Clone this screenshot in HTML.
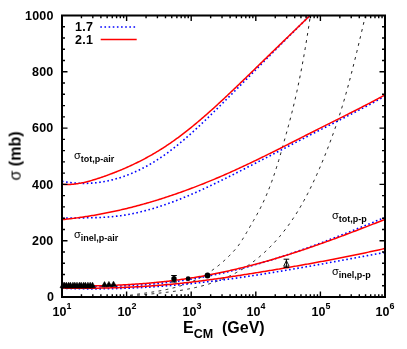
<!DOCTYPE html><html><head><meta charset="utf-8"><style>
html,body{margin:0;padding:0;background:#fff}
body{width:407px;height:349px;position:relative;overflow:hidden;font-family:"Liberation Sans",sans-serif;color:#000}
.t{position:absolute;white-space:nowrap;font-weight:bold;line-height:1;will-change:transform}
.yl{font-size:12.5px;letter-spacing:0.2px;right:353.2px;text-align:right}
.xl{font-size:12.5px;transform:translateX(-50%)}
.xl sup{font-size:9px;position:relative;top:-7.4px;vertical-align:baseline;line-height:0}
.lab{font-size:9px}
.lab .s{font-weight:normal;font-size:11px;position:relative;top:-2.6px}
</style></head><body>
<svg width="407" height="349" viewBox="0 0 407 349" style="position:absolute;left:0;top:0">
<rect width="407" height="349" fill="#fff"/>
<defs><clipPath id="c"><rect x="62" y="15.5" width="323" height="281.5"/></clipPath></defs>
<g clip-path="url(#c)" fill="none">
<path d="M130.00 295.27 L130.70 295.17 L131.40 295.06 L132.09 294.96 L132.79 294.86 L133.49 294.76 L134.19 294.66 L134.89 294.56 L135.58 294.46 L136.28 294.36 L136.98 294.26 L137.68 294.16 L138.38 294.07 L139.07 293.97 L139.77 293.87 L140.47 293.77 L141.17 293.68 L141.87 293.58 L142.57 293.48 L143.26 293.39 L143.96 293.29 L144.66 293.19 L145.36 293.09 L146.06 292.99 L146.75 292.89 L147.45 292.79 L148.15 292.69 L148.85 292.59 L149.55 292.49 L150.24 292.38 L150.94 292.28 L151.64 292.17 L152.34 292.06 L153.04 291.96 L153.73 291.85 L154.43 291.73 L155.13 291.62 L155.83 291.51 L156.53 291.39 L157.22 291.27 L157.92 291.15 L158.62 291.03 L159.32 290.91 L160.02 290.78 L160.72 290.66 L161.41 290.53 L162.11 290.40 L162.81 290.26 L163.51 290.12 L164.21 289.99 L164.90 289.84 L165.60 289.70 L166.30 289.55 L167.00 289.40 L167.70 289.25 L168.39 289.10 L169.09 288.94 L169.79 288.78 L170.49 288.61 L171.19 288.44 L171.88 288.27 L172.58 288.10 L173.28 287.92 L173.98 287.74 L174.68 287.55 L175.37 287.37 L176.07 287.17 L176.77 286.98 L177.47 286.78 L178.17 286.57 L178.86 286.37 L179.56 286.15 L180.26 285.94 L180.96 285.72 L181.66 285.49 L182.36 285.26 L183.05 285.03 L183.75 284.79 L184.45 284.55 L185.15 284.30 L185.85 284.05 L186.54 283.79 L187.24 283.53 L187.94 283.26 L188.64 282.99 L189.34 282.71 L190.03 282.43 L190.73 282.14 L191.43 281.85 L192.13 281.55 L192.83 281.24 L193.52 280.93 L194.22 280.62 L194.92 280.30 L195.62 279.97 L196.32 279.63 L197.01 279.30 L197.71 278.95 L198.41 278.60 L199.11 278.24 L199.81 277.88 L200.51 277.51 L201.20 277.13 L201.90 276.75 L202.60 276.36 L203.30 275.96 L204.00 275.56 L204.69 275.15 L205.39 274.73 L206.09 274.31 L206.79 273.88 L207.49 273.44 L208.18 273.00 L208.88 272.54 L209.58 272.08 L210.28 271.62 L210.98 271.14 L211.67 270.66 L212.37 270.17 L213.07 269.67 L213.77 269.17 L214.47 268.66 L215.16 268.13 L215.86 267.61 L216.56 267.07 L217.26 266.52 L217.96 265.97 L218.65 265.41 L219.35 264.84 L220.05 264.26 L220.75 263.67 L221.45 263.08 L222.15 262.47 L222.84 261.86 L223.54 261.24 L224.24 260.61 L224.94 259.97 L225.64 259.32 L226.33 258.66 L227.03 258.00 L227.73 257.32 L228.43 256.64 L229.13 255.94 L229.82 255.24 L230.52 254.52 L231.22 253.80 L231.92 253.07 L232.62 252.32 L233.31 251.57 L234.01 250.81 L234.71 250.03 L235.41 249.24 L236.11 248.43 L236.80 247.58 L237.50 246.71 L238.20 245.79 L238.90 244.83 L239.60 243.84 L240.29 242.82 L240.99 241.77 L241.69 240.68 L242.39 239.58 L243.09 238.45 L243.79 237.30 L244.48 236.14 L245.18 234.96 L245.88 233.77 L246.58 232.57 L247.28 231.36 L247.97 230.15 L248.67 228.94 L249.37 227.73 L250.07 226.53 L250.77 225.33 L251.46 224.13 L252.16 222.93 L252.86 221.72 L253.56 220.51 L254.26 219.30 L254.95 218.08 L255.65 216.84 L256.35 215.60 L257.05 214.34 L257.75 213.07 L258.44 211.77 L259.14 210.46 L259.84 209.12 L260.54 207.77 L261.24 206.38 L261.94 204.97 L262.63 203.53 L263.33 202.06 L264.03 200.55 L264.73 199.01 L265.43 197.43 L266.12 195.82 L266.82 194.18 L267.52 192.50 L268.22 190.78 L268.92 189.03 L269.61 187.23 L270.31 185.41 L271.01 183.54 L271.71 181.64 L272.41 179.69 L273.10 177.71 L273.80 175.69 L274.50 173.63 L275.20 171.53 L275.90 169.39 L276.59 167.21 L277.29 164.99 L277.99 162.73 L278.69 160.42 L279.39 158.08 L280.08 155.69 L280.78 153.26 L281.48 150.80 L282.18 148.32 L282.88 145.85 L283.58 143.37 L284.27 140.89 L284.97 138.41 L285.67 135.91 L286.37 133.40 L287.07 130.87 L287.76 128.31 L288.46 125.74 L289.16 123.13 L289.86 120.50 L290.56 117.82 L291.25 115.11 L291.95 112.36 L292.65 109.57 L293.35 106.72 L294.05 103.82 L294.74 100.87 L295.44 97.86 L296.14 94.78 L296.84 91.64 L297.54 88.44 L298.23 85.16 L298.93 81.81 L299.63 78.38 L300.33 74.89 L301.03 71.31 L301.73 67.66 L302.42 63.94 L303.12 60.13 L303.82 56.25 L304.52 52.28 L305.22 48.23 L305.91 44.10 L306.61 39.89 L307.31 35.59 L308.01 31.20 L308.71 26.72 L309.40 22.15 L310.10 17.50 L310.80 12.75" stroke="#000" stroke-width="0.9" stroke-dasharray="2.8 4.4"/>
<path d="M130.00 296.04 L130.91 295.94 L131.82 295.84 L132.73 295.75 L133.64 295.65 L134.56 295.56 L135.47 295.47 L136.38 295.38 L137.29 295.29 L138.20 295.20 L139.11 295.11 L140.02 295.02 L140.93 294.93 L141.85 294.84 L142.76 294.75 L143.67 294.67 L144.58 294.58 L145.49 294.49 L146.40 294.40 L147.31 294.32 L148.22 294.23 L149.14 294.14 L150.05 294.05 L150.96 293.97 L151.87 293.88 L152.78 293.79 L153.69 293.70 L154.60 293.61 L155.51 293.51 L156.42 293.42 L157.34 293.33 L158.25 293.23 L159.16 293.14 L160.07 293.04 L160.98 292.94 L161.89 292.84 L162.80 292.74 L163.71 292.64 L164.63 292.53 L165.54 292.43 L166.45 292.32 L167.36 292.21 L168.27 292.10 L169.18 291.99 L170.09 291.87 L171.00 291.75 L171.92 291.63 L172.83 291.51 L173.74 291.39 L174.65 291.26 L175.56 291.13 L176.47 291.00 L177.38 290.86 L178.29 290.73 L179.20 290.59 L180.12 290.44 L181.03 290.30 L181.94 290.15 L182.85 290.00 L183.76 289.84 L184.67 289.68 L185.58 289.52 L186.49 289.35 L187.41 289.18 L188.32 289.01 L189.23 288.83 L190.14 288.65 L191.05 288.47 L191.96 288.28 L192.87 288.09 L193.78 287.89 L194.69 287.69 L195.61 287.48 L196.52 287.27 L197.43 287.06 L198.34 286.84 L199.25 286.62 L200.16 286.39 L201.07 286.16 L201.98 285.92 L202.90 285.68 L203.81 285.43 L204.72 285.18 L205.63 284.92 L206.54 284.66 L207.45 284.39 L208.36 284.12 L209.27 283.84 L210.19 283.55 L211.10 283.26 L212.01 282.97 L212.92 282.67 L213.83 282.36 L214.74 282.05 L215.65 281.73 L216.56 281.40 L217.47 281.07 L218.39 280.73 L219.30 280.39 L220.21 280.04 L221.12 279.68 L222.03 279.32 L222.94 278.95 L223.85 278.57 L224.76 278.18 L225.68 277.79 L226.59 277.39 L227.50 276.98 L228.41 276.56 L229.32 276.14 L230.23 275.71 L231.14 275.27 L232.05 274.82 L232.97 274.36 L233.88 273.90 L234.79 273.42 L235.70 272.94 L236.61 272.45 L237.52 271.95 L238.43 271.44 L239.34 270.92 L240.25 270.39 L241.17 269.85 L242.08 269.30 L242.99 268.74 L243.90 268.17 L244.81 267.59 L245.72 267.00 L246.63 266.40 L247.54 265.79 L248.46 265.17 L249.37 264.54 L250.28 263.90 L251.19 263.25 L252.10 262.58 L253.01 261.90 L253.92 261.22 L254.83 260.52 L255.75 259.81 L256.66 259.08 L257.57 258.35 L258.48 257.60 L259.39 256.84 L260.30 256.07 L261.21 255.28 L262.12 254.49 L263.03 253.68 L263.95 252.85 L264.86 252.02 L265.77 251.17 L266.68 250.31 L267.59 249.43 L268.50 248.54 L269.41 247.64 L270.32 246.72 L271.24 245.79 L272.15 244.84 L273.06 243.88 L273.97 242.91 L274.88 241.92 L275.79 240.92 L276.70 239.90 L277.61 238.87 L278.53 237.82 L279.44 236.75 L280.35 235.67 L281.26 234.57 L282.17 233.45 L283.08 232.32 L283.99 231.16 L284.90 229.99 L285.81 228.80 L286.73 227.59 L287.64 226.37 L288.55 225.12 L289.46 223.85 L290.37 222.56 L291.28 221.25 L292.19 219.91 L293.10 218.56 L294.02 217.18 L294.93 215.78 L295.84 214.36 L296.75 212.92 L297.66 211.45 L298.57 209.95 L299.48 208.44 L300.39 206.89 L301.31 205.32 L302.22 203.73 L303.13 202.11 L304.04 200.46 L304.95 198.79 L305.86 197.09 L306.77 195.37 L307.68 193.61 L308.59 191.83 L309.51 190.03 L310.42 188.20 L311.33 186.34 L312.24 184.45 L313.15 182.54 L314.06 180.60 L314.97 178.63 L315.88 176.64 L316.80 174.62 L317.71 172.57 L318.62 170.50 L319.53 168.40 L320.44 166.27 L321.35 164.12 L322.26 161.94 L323.17 159.73 L324.08 157.50 L325.00 155.23 L325.91 152.94 L326.82 150.63 L327.73 148.28 L328.64 145.91 L329.55 143.51 L330.46 141.09 L331.37 138.64 L332.29 136.16 L333.20 133.65 L334.11 131.11 L335.02 128.53 L335.93 125.92 L336.84 123.26 L337.75 120.56 L338.66 117.80 L339.58 115.00 L340.49 112.14 L341.40 109.23 L342.31 106.25 L343.22 103.22 L344.13 100.13 L345.04 96.98 L345.95 93.77 L346.86 90.51 L347.78 87.19 L348.69 83.82 L349.60 80.40 L350.51 76.93 L351.42 73.42 L352.33 69.87 L353.24 66.27 L354.15 62.64 L355.07 58.98 L355.98 55.28 L356.89 51.55 L357.80 47.80 L358.71 44.02 L359.62 40.22 L360.53 36.40 L361.44 32.56 L362.36 28.71 L363.27 24.85 L364.18 20.98 L365.09 17.10 L366.00 13.22" stroke="#000" stroke-width="0.9" stroke-dasharray="2.8 4.4"/>
<path d="M62.00 181.27 L62.97 181.45 L63.93 181.63 L64.90 181.79 L65.86 181.95 L66.83 182.10 L67.79 182.24 L68.76 182.37 L69.72 182.50 L70.69 182.62 L71.65 182.72 L72.62 182.82 L73.58 182.92 L74.55 183.00 L75.51 183.08 L76.48 183.14 L77.44 183.20 L78.41 183.25 L79.37 183.30 L80.34 183.33 L81.31 183.36 L82.27 183.37 L83.24 183.38 L84.20 183.39 L85.17 183.38 L86.13 183.36 L87.10 183.34 L88.06 183.31 L89.03 183.27 L89.99 183.22 L90.96 183.17 L91.92 183.10 L92.89 183.03 L93.85 182.95 L94.82 182.86 L95.78 182.77 L96.75 182.66 L97.71 182.55 L98.68 182.43 L99.64 182.30 L100.61 182.16 L101.58 182.02 L102.54 181.86 L103.51 181.70 L104.47 181.53 L105.44 181.35 L106.40 181.17 L107.37 180.97 L108.33 180.77 L109.30 180.56 L110.26 180.34 L111.23 180.11 L112.19 179.88 L113.16 179.63 L114.12 179.38 L115.09 179.12 L116.05 178.85 L117.02 178.58 L117.98 178.29 L118.95 178.00 L119.92 177.70 L120.88 177.39 L121.85 177.08 L122.81 176.75 L123.78 176.42 L124.74 176.08 L125.71 175.73 L126.67 175.37 L127.64 175.01 L128.60 174.63 L129.57 174.25 L130.53 173.86 L131.50 173.46 L132.46 173.06 L133.43 172.64 L134.39 172.22 L135.36 171.79 L136.32 171.35 L137.29 170.91 L138.25 170.45 L139.22 169.99 L140.19 169.52 L141.15 169.04 L142.12 168.55 L143.08 168.06 L144.05 167.56 L145.01 167.04 L145.98 166.53 L146.94 166.00 L147.91 165.46 L148.87 164.92 L149.84 164.37 L150.80 163.81 L151.77 163.24 L152.73 162.66 L153.70 162.08 L154.66 161.49 L155.63 160.89 L156.59 160.28 L157.56 159.66 L158.53 159.04 L159.49 158.41 L160.46 157.77 L161.42 157.12 L162.39 156.46 L163.35 155.80 L164.32 155.13 L165.28 154.45 L166.25 153.76 L167.21 153.06 L168.18 152.36 L169.14 151.64 L170.11 150.92 L171.07 150.19 L172.04 149.46 L173.00 148.71 L173.97 147.96 L174.93 147.20 L175.90 146.43 L176.86 145.66 L177.83 144.88 L178.80 144.09 L179.76 143.29 L180.73 142.49 L181.69 141.68 L182.66 140.86 L183.62 140.04 L184.59 139.21 L185.55 138.38 L186.52 137.54 L187.48 136.69 L188.45 135.84 L189.41 134.99 L190.38 134.13 L191.34 133.26 L192.31 132.39 L193.27 131.51 L194.24 130.63 L195.20 129.74 L196.17 128.85 L197.14 127.95 L198.10 127.06 L199.07 126.15 L200.03 125.24 L201.00 124.33 L201.96 123.42 L202.93 122.50 L203.89 121.58 L204.86 120.65 L205.82 119.73 L206.79 118.80 L207.75 117.86 L208.72 116.93 L209.68 115.99 L210.65 115.05 L211.61 114.10 L212.58 113.16 L213.54 112.21 L214.51 111.26 L215.47 110.31 L216.44 109.36 L217.41 108.40 L218.37 107.45 L219.34 106.49 L220.30 105.53 L221.27 104.57 L222.23 103.61 L223.20 102.65 L224.16 101.69 L225.13 100.72 L226.09 99.76 L227.06 98.79 L228.02 97.82 L228.99 96.85 L229.95 95.88 L230.92 94.91 L231.88 93.94 L232.85 92.97 L233.81 92.00 L234.78 91.03 L235.75 90.05 L236.71 89.08 L237.68 88.10 L238.64 87.13 L239.61 86.15 L240.57 85.18 L241.54 84.20 L242.50 83.23 L243.47 82.25 L244.43 81.27 L245.40 80.30 L246.36 79.32 L247.33 78.34 L248.29 77.37 L249.26 76.39 L250.22 75.41 L251.19 74.43 L252.15 73.46 L253.12 72.48 L254.08 71.50 L255.05 70.53 L256.02 69.55 L256.98 68.57 L257.95 67.59 L258.91 66.62 L259.88 65.64 L260.84 64.66 L261.81 63.69 L262.77 62.71 L263.74 61.73 L264.70 60.76 L265.67 59.78 L266.63 58.81 L267.60 57.83 L268.56 56.86 L269.53 55.88 L270.49 54.91 L271.46 53.93 L272.42 52.96 L273.39 51.98 L274.36 51.01 L275.32 50.04 L276.29 49.07 L277.25 48.09 L278.22 47.12 L279.18 46.15 L280.15 45.18 L281.11 44.21 L282.08 43.24 L283.04 42.27 L284.01 41.30 L284.97 40.34 L285.94 39.37 L286.90 38.40 L287.87 37.44 L288.83 36.47 L289.80 35.50 L290.76 34.54 L291.73 33.58 L292.69 32.61 L293.66 31.65 L294.63 30.69 L295.59 29.73 L296.56 28.77 L297.52 27.81 L298.49 26.85 L299.45 25.90 L300.42 24.94 L301.38 23.98 L302.35 23.03 L303.31 22.08 L304.28 21.12 L305.24 20.17 L306.21 19.22 L307.17 18.27 L308.14 17.32 L309.10 16.37 L310.07 15.42 L311.03 14.48 L312.00 13.53" stroke="#0000ff" stroke-width="1.6" stroke-dasharray="1.6 2.55"/>
<path d="M62.00 218.25 L63.25 218.21 L64.50 218.17 L65.75 218.14 L67.00 218.10 L68.25 218.08 L69.51 218.05 L70.76 218.03 L72.01 218.01 L73.26 217.99 L74.51 217.97 L75.76 217.96 L77.01 217.94 L78.26 217.93 L79.51 217.91 L80.76 217.90 L82.02 217.88 L83.27 217.87 L84.52 217.85 L85.77 217.84 L87.02 217.82 L88.27 217.80 L89.52 217.77 L90.77 217.75 L92.02 217.72 L93.27 217.69 L94.53 217.66 L95.78 217.62 L97.03 217.58 L98.28 217.53 L99.53 217.48 L100.78 217.43 L102.03 217.37 L103.28 217.31 L104.53 217.24 L105.78 217.16 L107.03 217.08 L108.29 216.99 L109.54 216.89 L110.79 216.79 L112.04 216.68 L113.29 216.56 L114.54 216.43 L115.79 216.30 L117.04 216.15 L118.29 216.00 L119.54 215.84 L120.80 215.67 L122.05 215.49 L123.30 215.31 L124.55 215.11 L125.80 214.91 L127.05 214.69 L128.30 214.47 L129.55 214.24 L130.80 214.01 L132.05 213.76 L133.31 213.51 L134.56 213.25 L135.81 212.98 L137.06 212.70 L138.31 212.42 L139.56 212.13 L140.81 211.83 L142.06 211.52 L143.31 211.21 L144.56 210.88 L145.81 210.56 L147.07 210.22 L148.32 209.88 L149.57 209.53 L150.82 209.17 L152.07 208.81 L153.32 208.44 L154.57 208.06 L155.82 207.68 L157.07 207.29 L158.32 206.89 L159.58 206.49 L160.83 206.08 L162.08 205.67 L163.33 205.24 L164.58 204.82 L165.83 204.38 L167.08 203.95 L168.33 203.50 L169.58 203.05 L170.83 202.60 L172.08 202.13 L173.34 201.67 L174.59 201.20 L175.84 200.72 L177.09 200.24 L178.34 199.75 L179.59 199.25 L180.84 198.76 L182.09 198.25 L183.34 197.75 L184.59 197.23 L185.85 196.72 L187.10 196.20 L188.35 195.67 L189.60 195.14 L190.85 194.60 L192.10 194.06 L193.35 193.52 L194.60 192.97 L195.85 192.42 L197.10 191.87 L198.36 191.31 L199.61 190.74 L200.86 190.18 L202.11 189.61 L203.36 189.03 L204.61 188.46 L205.86 187.88 L207.11 187.29 L208.36 186.70 L209.61 186.11 L210.86 185.52 L212.12 184.92 L213.37 184.33 L214.62 183.72 L215.87 183.12 L217.12 182.51 L218.37 181.90 L219.62 181.29 L220.87 180.68 L222.12 180.06 L223.37 179.44 L224.63 178.82 L225.88 178.20 L227.13 177.58 L228.38 176.95 L229.63 176.33 L230.88 175.70 L232.13 175.07 L233.38 174.44 L234.63 173.81 L235.88 173.17 L237.14 172.54 L238.39 171.91 L239.64 171.27 L240.89 170.63 L242.14 170.00 L243.39 169.36 L244.64 168.72 L245.89 168.08 L247.14 167.44 L248.39 166.80 L249.64 166.17 L250.90 165.53 L252.15 164.89 L253.40 164.25 L254.65 163.61 L255.90 162.97 L257.15 162.33 L258.40 161.69 L259.65 161.05 L260.90 160.41 L262.15 159.77 L263.41 159.13 L264.66 158.49 L265.91 157.85 L267.16 157.21 L268.41 156.57 L269.66 155.92 L270.91 155.28 L272.16 154.64 L273.41 154.00 L274.66 153.35 L275.92 152.71 L277.17 152.06 L278.42 151.42 L279.67 150.77 L280.92 150.13 L282.17 149.48 L283.42 148.83 L284.67 148.19 L285.92 147.54 L287.17 146.89 L288.42 146.24 L289.68 145.59 L290.93 144.94 L292.18 144.29 L293.43 143.64 L294.68 142.99 L295.93 142.34 L297.18 141.69 L298.43 141.04 L299.68 140.40 L300.93 139.75 L302.19 139.10 L303.44 138.46 L304.69 137.81 L305.94 137.17 L307.19 136.53 L308.44 135.88 L309.69 135.24 L310.94 134.60 L312.19 133.96 L313.44 133.33 L314.69 132.69 L315.95 132.05 L317.20 131.42 L318.45 130.78 L319.70 130.14 L320.95 129.51 L322.20 128.87 L323.45 128.24 L324.70 127.61 L325.95 126.97 L327.20 126.34 L328.46 125.70 L329.71 125.07 L330.96 124.44 L332.21 123.80 L333.46 123.17 L334.71 122.53 L335.96 121.90 L337.21 121.26 L338.46 120.63 L339.71 119.99 L340.97 119.36 L342.22 118.72 L343.47 118.08 L344.72 117.44 L345.97 116.80 L347.22 116.16 L348.47 115.52 L349.72 114.88 L350.97 114.24 L352.22 113.60 L353.47 112.95 L354.73 112.31 L355.98 111.66 L357.23 111.01 L358.48 110.36 L359.73 109.71 L360.98 109.06 L362.23 108.40 L363.48 107.75 L364.73 107.09 L365.98 106.43 L367.24 105.77 L368.49 105.11 L369.74 104.45 L370.99 103.78 L372.24 103.11 L373.49 102.45 L374.74 101.77 L375.99 101.10 L377.24 100.42 L378.49 99.75 L379.75 99.07 L381.00 98.38 L382.25 97.70 L383.50 97.01 L384.75 96.32 L386.00 95.63" stroke="#0000ff" stroke-width="1.6" stroke-dasharray="1.6 2.55"/>
<path d="M62.00 286.04 L63.25 286.07 L64.50 286.11 L65.75 286.15 L67.00 286.18 L68.25 286.22 L69.51 286.25 L70.76 286.28 L72.01 286.31 L73.26 286.33 L74.51 286.36 L75.76 286.38 L77.01 286.41 L78.26 286.43 L79.51 286.45 L80.76 286.46 L82.02 286.48 L83.27 286.49 L84.52 286.51 L85.77 286.52 L87.02 286.52 L88.27 286.53 L89.52 286.54 L90.77 286.54 L92.02 286.54 L93.27 286.54 L94.53 286.54 L95.78 286.53 L97.03 286.53 L98.28 286.52 L99.53 286.51 L100.78 286.50 L102.03 286.48 L103.28 286.47 L104.53 286.45 L105.78 286.43 L107.03 286.40 L108.29 286.38 L109.54 286.35 L110.79 286.33 L112.04 286.29 L113.29 286.26 L114.54 286.23 L115.79 286.19 L117.04 286.15 L118.29 286.11 L119.54 286.06 L120.80 286.02 L122.05 285.97 L123.30 285.92 L124.55 285.86 L125.80 285.81 L127.05 285.75 L128.30 285.69 L129.55 285.63 L130.80 285.56 L132.05 285.49 L133.31 285.42 L134.56 285.35 L135.81 285.27 L137.06 285.20 L138.31 285.12 L139.56 285.03 L140.81 284.95 L142.06 284.86 L143.31 284.77 L144.56 284.67 L145.81 284.58 L147.07 284.48 L148.32 284.38 L149.57 284.27 L150.82 284.17 L152.07 284.06 L153.32 283.95 L154.57 283.83 L155.82 283.71 L157.07 283.59 L158.32 283.47 L159.58 283.34 L160.83 283.21 L162.08 283.08 L163.33 282.94 L164.58 282.81 L165.83 282.67 L167.08 282.52 L168.33 282.37 L169.58 282.22 L170.83 282.07 L172.08 281.91 L173.34 281.76 L174.59 281.59 L175.84 281.43 L177.09 281.26 L178.34 281.09 L179.59 280.91 L180.84 280.74 L182.09 280.55 L183.34 280.37 L184.59 280.18 L185.85 279.99 L187.10 279.80 L188.35 279.60 L189.60 279.40 L190.85 279.20 L192.10 278.99 L193.35 278.78 L194.60 278.57 L195.85 278.35 L197.10 278.14 L198.36 277.91 L199.61 277.69 L200.86 277.46 L202.11 277.23 L203.36 277.00 L204.61 276.76 L205.86 276.52 L207.11 276.28 L208.36 276.03 L209.61 275.78 L210.86 275.53 L212.12 275.27 L213.37 275.02 L214.62 274.76 L215.87 274.49 L217.12 274.22 L218.37 273.96 L219.62 273.68 L220.87 273.41 L222.12 273.13 L223.37 272.85 L224.63 272.56 L225.88 272.28 L227.13 271.99 L228.38 271.69 L229.63 271.40 L230.88 271.10 L232.13 270.80 L233.38 270.49 L234.63 270.18 L235.88 269.87 L237.14 269.56 L238.39 269.25 L239.64 268.93 L240.89 268.61 L242.14 268.28 L243.39 267.95 L244.64 267.62 L245.89 267.29 L247.14 266.96 L248.39 266.62 L249.64 266.28 L250.90 265.94 L252.15 265.59 L253.40 265.24 L254.65 264.89 L255.90 264.53 L257.15 264.18 L258.40 263.82 L259.65 263.46 L260.90 263.09 L262.15 262.72 L263.41 262.35 L264.66 261.98 L265.91 261.61 L267.16 261.23 L268.41 260.85 L269.66 260.46 L270.91 260.08 L272.16 259.69 L273.41 259.30 L274.66 258.91 L275.92 258.51 L277.17 258.12 L278.42 257.72 L279.67 257.31 L280.92 256.91 L282.17 256.50 L283.42 256.09 L284.67 255.68 L285.92 255.27 L287.17 254.85 L288.42 254.44 L289.68 254.02 L290.93 253.59 L292.18 253.17 L293.43 252.74 L294.68 252.32 L295.93 251.88 L297.18 251.45 L298.43 251.02 L299.68 250.58 L300.93 250.14 L302.19 249.70 L303.44 249.26 L304.69 248.82 L305.94 248.37 L307.19 247.92 L308.44 247.47 L309.69 247.02 L310.94 246.57 L312.19 246.12 L313.44 245.66 L314.69 245.20 L315.95 244.74 L317.20 244.28 L318.45 243.82 L319.70 243.35 L320.95 242.88 L322.20 242.42 L323.45 241.95 L324.70 241.48 L325.95 241.00 L327.20 240.53 L328.46 240.05 L329.71 239.58 L330.96 239.10 L332.21 238.62 L333.46 238.14 L334.71 237.65 L335.96 237.17 L337.21 236.68 L338.46 236.20 L339.71 235.71 L340.97 235.22 L342.22 234.73 L343.47 234.24 L344.72 233.75 L345.97 233.25 L347.22 232.76 L348.47 232.26 L349.72 231.76 L350.97 231.27 L352.22 230.77 L353.47 230.27 L354.73 229.77 L355.98 229.26 L357.23 228.76 L358.48 228.26 L359.73 227.75 L360.98 227.24 L362.23 226.74 L363.48 226.23 L364.73 225.72 L365.98 225.21 L367.24 224.70 L368.49 224.19 L369.74 223.68 L370.99 223.17 L372.24 222.65 L373.49 222.14 L374.74 221.62 L375.99 221.11 L377.24 220.59 L378.49 220.08 L379.75 219.56 L381.00 219.04 L382.25 218.52 L383.50 218.01 L384.75 217.49 L386.00 216.97" stroke="#0000ff" stroke-width="1.6" stroke-dasharray="1.6 2.55"/>
<path d="M62.00 288.26 L63.25 288.31 L64.50 288.36 L65.75 288.40 L67.00 288.44 L68.25 288.48 L69.51 288.52 L70.76 288.56 L72.01 288.59 L73.26 288.63 L74.51 288.66 L75.76 288.68 L77.01 288.71 L78.26 288.74 L79.51 288.76 L80.76 288.78 L82.02 288.80 L83.27 288.81 L84.52 288.83 L85.77 288.84 L87.02 288.85 L88.27 288.86 L89.52 288.87 L90.77 288.87 L92.02 288.88 L93.27 288.88 L94.53 288.88 L95.78 288.87 L97.03 288.87 L98.28 288.86 L99.53 288.86 L100.78 288.85 L102.03 288.83 L103.28 288.82 L104.53 288.81 L105.78 288.79 L107.03 288.77 L108.29 288.75 L109.54 288.73 L110.79 288.70 L112.04 288.68 L113.29 288.65 L114.54 288.62 L115.79 288.59 L117.04 288.55 L118.29 288.52 L119.54 288.48 L120.80 288.44 L122.05 288.40 L123.30 288.36 L124.55 288.31 L125.80 288.27 L127.05 288.22 L128.30 288.17 L129.55 288.12 L130.80 288.07 L132.05 288.01 L133.31 287.96 L134.56 287.90 L135.81 287.84 L137.06 287.78 L138.31 287.72 L139.56 287.65 L140.81 287.59 L142.06 287.52 L143.31 287.45 L144.56 287.38 L145.81 287.30 L147.07 287.23 L148.32 287.15 L149.57 287.08 L150.82 287.00 L152.07 286.92 L153.32 286.83 L154.57 286.75 L155.82 286.66 L157.07 286.58 L158.32 286.49 L159.58 286.40 L160.83 286.30 L162.08 286.21 L163.33 286.11 L164.58 286.02 L165.83 285.92 L167.08 285.82 L168.33 285.72 L169.58 285.61 L170.83 285.51 L172.08 285.40 L173.34 285.30 L174.59 285.19 L175.84 285.08 L177.09 284.96 L178.34 284.85 L179.59 284.73 L180.84 284.62 L182.09 284.50 L183.34 284.38 L184.59 284.26 L185.85 284.14 L187.10 284.01 L188.35 283.89 L189.60 283.76 L190.85 283.63 L192.10 283.50 L193.35 283.37 L194.60 283.24 L195.85 283.10 L197.10 282.97 L198.36 282.83 L199.61 282.69 L200.86 282.55 L202.11 282.41 L203.36 282.27 L204.61 282.12 L205.86 281.98 L207.11 281.83 L208.36 281.68 L209.61 281.53 L210.86 281.38 L212.12 281.23 L213.37 281.08 L214.62 280.92 L215.87 280.77 L217.12 280.61 L218.37 280.45 L219.62 280.29 L220.87 280.13 L222.12 279.97 L223.37 279.81 L224.63 279.64 L225.88 279.48 L227.13 279.31 L228.38 279.14 L229.63 278.97 L230.88 278.80 L232.13 278.63 L233.38 278.46 L234.63 278.28 L235.88 278.11 L237.14 277.93 L238.39 277.75 L239.64 277.57 L240.89 277.40 L242.14 277.21 L243.39 277.03 L244.64 276.85 L245.89 276.67 L247.14 276.48 L248.39 276.30 L249.64 276.11 L250.90 275.92 L252.15 275.73 L253.40 275.54 L254.65 275.35 L255.90 275.16 L257.15 274.97 L258.40 274.77 L259.65 274.58 L260.90 274.38 L262.15 274.19 L263.41 273.99 L264.66 273.79 L265.91 273.59 L267.16 273.39 L268.41 273.19 L269.66 272.99 L270.91 272.79 L272.16 272.59 L273.41 272.38 L274.66 272.18 L275.92 271.97 L277.17 271.77 L278.42 271.56 L279.67 271.35 L280.92 271.14 L282.17 270.93 L283.42 270.72 L284.67 270.51 L285.92 270.30 L287.17 270.09 L288.42 269.88 L289.68 269.66 L290.93 269.45 L292.18 269.23 L293.43 269.02 L294.68 268.80 L295.93 268.59 L297.18 268.37 L298.43 268.15 L299.68 267.93 L300.93 267.71 L302.19 267.49 L303.44 267.28 L304.69 267.06 L305.94 266.83 L307.19 266.61 L308.44 266.39 L309.69 266.17 L310.94 265.95 L312.19 265.72 L313.44 265.50 L314.69 265.28 L315.95 265.05 L317.20 264.83 L318.45 264.60 L319.70 264.38 L320.95 264.15 L322.20 263.93 L323.45 263.70 L324.70 263.47 L325.95 263.25 L327.20 263.02 L328.46 262.79 L329.71 262.56 L330.96 262.33 L332.21 262.11 L333.46 261.88 L334.71 261.65 L335.96 261.42 L337.21 261.19 L338.46 260.96 L339.71 260.73 L340.97 260.50 L342.22 260.27 L343.47 260.04 L344.72 259.81 L345.97 259.58 L347.22 259.35 L348.47 259.12 L349.72 258.89 L350.97 258.66 L352.22 258.43 L353.47 258.20 L354.73 257.97 L355.98 257.74 L357.23 257.51 L358.48 257.28 L359.73 257.05 L360.98 256.82 L362.23 256.58 L363.48 256.35 L364.73 256.12 L365.98 255.89 L367.24 255.66 L368.49 255.43 L369.74 255.20 L370.99 254.97 L372.24 254.74 L373.49 254.51 L374.74 254.28 L375.99 254.05 L377.24 253.83 L378.49 253.60 L379.75 253.37 L381.00 253.14 L382.25 252.91 L383.50 252.68 L384.75 252.45 L386.00 252.23" stroke="#0000ff" stroke-width="1.6" stroke-dasharray="1.6 2.55"/>
<path d="M62.00 184.24 L62.97 184.32 L63.93 184.38 L64.90 184.43 L65.86 184.46 L66.83 184.48 L67.79 184.48 L68.76 184.46 L69.72 184.43 L70.69 184.39 L71.65 184.33 L72.62 184.25 L73.58 184.16 L74.55 184.06 L75.51 183.95 L76.48 183.82 L77.44 183.68 L78.41 183.53 L79.37 183.37 L80.34 183.20 L81.31 183.01 L82.27 182.82 L83.24 182.61 L84.20 182.40 L85.17 182.17 L86.13 181.94 L87.10 181.70 L88.06 181.45 L89.03 181.19 L89.99 180.93 L90.96 180.65 L91.92 180.37 L92.89 180.09 L93.85 179.79 L94.82 179.50 L95.78 179.19 L96.75 178.88 L97.71 178.57 L98.68 178.25 L99.64 177.93 L100.61 177.60 L101.58 177.28 L102.54 176.94 L103.51 176.61 L104.47 176.27 L105.44 175.93 L106.40 175.58 L107.37 175.23 L108.33 174.88 L109.30 174.53 L110.26 174.17 L111.23 173.80 L112.19 173.44 L113.16 173.07 L114.12 172.69 L115.09 172.32 L116.05 171.94 L117.02 171.55 L117.98 171.16 L118.95 170.77 L119.92 170.37 L120.88 169.97 L121.85 169.57 L122.81 169.16 L123.78 168.74 L124.74 168.33 L125.71 167.91 L126.67 167.48 L127.64 167.05 L128.60 166.62 L129.57 166.18 L130.53 165.74 L131.50 165.29 L132.46 164.84 L133.43 164.38 L134.39 163.92 L135.36 163.45 L136.32 162.98 L137.29 162.51 L138.25 162.03 L139.22 161.55 L140.19 161.06 L141.15 160.56 L142.12 160.06 L143.08 159.56 L144.05 159.05 L145.01 158.54 L145.98 158.02 L146.94 157.49 L147.91 156.96 L148.87 156.43 L149.84 155.89 L150.80 155.34 L151.77 154.79 L152.73 154.24 L153.70 153.68 L154.66 153.11 L155.63 152.54 L156.59 151.96 L157.56 151.38 L158.53 150.79 L159.49 150.19 L160.46 149.59 L161.42 148.99 L162.39 148.38 L163.35 147.76 L164.32 147.14 L165.28 146.51 L166.25 145.87 L167.21 145.23 L168.18 144.58 L169.14 143.93 L170.11 143.27 L171.07 142.60 L172.04 141.93 L173.00 141.25 L173.97 140.57 L174.93 139.88 L175.90 139.18 L176.86 138.48 L177.83 137.77 L178.80 137.06 L179.76 136.34 L180.73 135.62 L181.69 134.89 L182.66 134.15 L183.62 133.41 L184.59 132.67 L185.55 131.92 L186.52 131.16 L187.48 130.40 L188.45 129.63 L189.41 128.86 L190.38 128.09 L191.34 127.30 L192.31 126.52 L193.27 125.73 L194.24 124.94 L195.20 124.14 L196.17 123.33 L197.14 122.53 L198.10 121.71 L199.07 120.90 L200.03 120.08 L201.00 119.25 L201.96 118.42 L202.93 117.59 L203.89 116.76 L204.86 115.92 L205.82 115.07 L206.79 114.23 L207.75 113.38 L208.72 112.52 L209.68 111.66 L210.65 110.80 L211.61 109.94 L212.58 109.07 L213.54 108.20 L214.51 107.33 L215.47 106.45 L216.44 105.57 L217.41 104.69 L218.37 103.80 L219.34 102.91 L220.30 102.02 L221.27 101.13 L222.23 100.23 L223.20 99.34 L224.16 98.44 L225.13 97.53 L226.09 96.63 L227.06 95.72 L228.02 94.81 L228.99 93.90 L229.95 92.99 L230.92 92.07 L231.88 91.15 L232.85 90.24 L233.81 89.32 L234.78 88.39 L235.75 87.47 L236.71 86.55 L237.68 85.62 L238.64 84.69 L239.61 83.76 L240.57 82.83 L241.54 81.90 L242.50 80.97 L243.47 80.04 L244.43 79.10 L245.40 78.17 L246.36 77.23 L247.33 76.30 L248.29 75.36 L249.26 74.42 L250.22 73.48 L251.19 72.54 L252.15 71.61 L253.12 70.67 L254.08 69.73 L255.05 68.79 L256.02 67.85 L256.98 66.91 L257.95 65.97 L258.91 65.03 L259.88 64.09 L260.84 63.15 L261.81 62.22 L262.77 61.28 L263.74 60.34 L264.70 59.40 L265.67 58.46 L266.63 57.52 L267.60 56.59 L268.56 55.65 L269.53 54.71 L270.49 53.77 L271.46 52.83 L272.42 51.90 L273.39 50.96 L274.36 50.02 L275.32 49.09 L276.29 48.15 L277.25 47.21 L278.22 46.28 L279.18 45.34 L280.15 44.40 L281.11 43.47 L282.08 42.53 L283.04 41.59 L284.01 40.66 L284.97 39.72 L285.94 38.79 L286.90 37.85 L287.87 36.92 L288.83 35.98 L289.80 35.05 L290.76 34.11 L291.73 33.18 L292.69 32.24 L293.66 31.31 L294.63 30.37 L295.59 29.44 L296.56 28.50 L297.52 27.57 L298.49 26.64 L299.45 25.70 L300.42 24.77 L301.38 23.84 L302.35 22.90 L303.31 21.97 L304.28 21.04 L305.24 20.11 L306.21 19.17 L307.17 18.24 L308.14 17.31 L309.10 16.38 L310.07 15.44 L311.03 14.51 L312.00 13.58" stroke="#ff0000" stroke-width="1.5"/>
<path d="M62.00 219.66 L63.25 219.53 L64.50 219.39 L65.75 219.26 L67.00 219.12 L68.25 218.97 L69.51 218.83 L70.76 218.68 L72.01 218.52 L73.26 218.37 L74.51 218.21 L75.76 218.04 L77.01 217.88 L78.26 217.71 L79.51 217.53 L80.76 217.36 L82.02 217.18 L83.27 216.99 L84.52 216.80 L85.77 216.61 L87.02 216.42 L88.27 216.22 L89.52 216.02 L90.77 215.82 L92.02 215.61 L93.27 215.40 L94.53 215.18 L95.78 214.96 L97.03 214.74 L98.28 214.52 L99.53 214.29 L100.78 214.06 L102.03 213.82 L103.28 213.58 L104.53 213.34 L105.78 213.10 L107.03 212.85 L108.29 212.59 L109.54 212.34 L110.79 212.08 L112.04 211.82 L113.29 211.55 L114.54 211.28 L115.79 211.01 L117.04 210.73 L118.29 210.45 L119.54 210.17 L120.80 209.88 L122.05 209.59 L123.30 209.30 L124.55 209.00 L125.80 208.70 L127.05 208.40 L128.30 208.09 L129.55 207.78 L130.80 207.47 L132.05 207.15 L133.31 206.83 L134.56 206.51 L135.81 206.18 L137.06 205.85 L138.31 205.51 L139.56 205.18 L140.81 204.84 L142.06 204.49 L143.31 204.14 L144.56 203.79 L145.81 203.44 L147.07 203.08 L148.32 202.72 L149.57 202.35 L150.82 201.99 L152.07 201.62 L153.32 201.24 L154.57 200.86 L155.82 200.48 L157.07 200.10 L158.32 199.71 L159.58 199.32 L160.83 198.93 L162.08 198.53 L163.33 198.13 L164.58 197.72 L165.83 197.32 L167.08 196.91 L168.33 196.49 L169.58 196.08 L170.83 195.66 L172.08 195.24 L173.34 194.81 L174.59 194.38 L175.84 193.95 L177.09 193.52 L178.34 193.08 L179.59 192.64 L180.84 192.19 L182.09 191.74 L183.34 191.29 L184.59 190.84 L185.85 190.38 L187.10 189.92 L188.35 189.46 L189.60 189.00 L190.85 188.53 L192.10 188.06 L193.35 187.58 L194.60 187.10 L195.85 186.62 L197.10 186.14 L198.36 185.65 L199.61 185.16 L200.86 184.67 L202.11 184.18 L203.36 183.68 L204.61 183.18 L205.86 182.67 L207.11 182.17 L208.36 181.66 L209.61 181.15 L210.86 180.63 L212.12 180.11 L213.37 179.59 L214.62 179.07 L215.87 178.54 L217.12 178.01 L218.37 177.48 L219.62 176.94 L220.87 176.41 L222.12 175.87 L223.37 175.32 L224.63 174.78 L225.88 174.23 L227.13 173.68 L228.38 173.12 L229.63 172.57 L230.88 172.01 L232.13 171.44 L233.38 170.88 L234.63 170.31 L235.88 169.74 L237.14 169.17 L238.39 168.60 L239.64 168.02 L240.89 167.44 L242.14 166.86 L243.39 166.27 L244.64 165.69 L245.89 165.10 L247.14 164.51 L248.39 163.92 L249.64 163.32 L250.90 162.73 L252.15 162.13 L253.40 161.53 L254.65 160.93 L255.90 160.32 L257.15 159.72 L258.40 159.11 L259.65 158.50 L260.90 157.89 L262.15 157.28 L263.41 156.67 L264.66 156.06 L265.91 155.44 L267.16 154.82 L268.41 154.20 L269.66 153.59 L270.91 152.96 L272.16 152.34 L273.41 151.72 L274.66 151.10 L275.92 150.47 L277.17 149.84 L278.42 149.22 L279.67 148.59 L280.92 147.96 L282.17 147.33 L283.42 146.70 L284.67 146.07 L285.92 145.44 L287.17 144.81 L288.42 144.17 L289.68 143.54 L290.93 142.91 L292.18 142.27 L293.43 141.64 L294.68 141.00 L295.93 140.37 L297.18 139.73 L298.43 139.10 L299.68 138.46 L300.93 137.83 L302.19 137.19 L303.44 136.56 L304.69 135.92 L305.94 135.29 L307.19 134.65 L308.44 134.02 L309.69 133.38 L310.94 132.75 L312.19 132.11 L313.44 131.48 L314.69 130.85 L315.95 130.21 L317.20 129.58 L318.45 128.95 L319.70 128.32 L320.95 127.69 L322.20 127.06 L323.45 126.43 L324.70 125.80 L325.95 125.17 L327.20 124.55 L328.46 123.92 L329.71 123.30 L330.96 122.67 L332.21 122.05 L333.46 121.42 L334.71 120.80 L335.96 120.17 L337.21 119.55 L338.46 118.93 L339.71 118.30 L340.97 117.68 L342.22 117.05 L343.47 116.43 L344.72 115.80 L345.97 115.17 L347.22 114.55 L348.47 113.92 L349.72 113.29 L350.97 112.66 L352.22 112.03 L353.47 111.40 L354.73 110.76 L355.98 110.13 L357.23 109.49 L358.48 108.86 L359.73 108.22 L360.98 107.58 L362.23 106.94 L363.48 106.29 L364.73 105.65 L365.98 105.00 L367.24 104.35 L368.49 103.70 L369.74 103.05 L370.99 102.39 L372.24 101.73 L373.49 101.07 L374.74 100.41 L375.99 99.74 L377.24 99.07 L378.49 98.40 L379.75 97.73 L381.00 97.05 L382.25 96.37 L383.50 95.69 L384.75 95.00 L386.00 94.31" stroke="#ff0000" stroke-width="1.5"/>
<path d="M62.00 285.80 L63.25 285.82 L64.50 285.84 L65.75 285.85 L67.00 285.86 L68.25 285.88 L69.51 285.89 L70.76 285.90 L72.01 285.90 L73.26 285.91 L74.51 285.92 L75.76 285.92 L77.01 285.92 L78.26 285.92 L79.51 285.92 L80.76 285.92 L82.02 285.92 L83.27 285.91 L84.52 285.91 L85.77 285.90 L87.02 285.89 L88.27 285.88 L89.52 285.86 L90.77 285.85 L92.02 285.83 L93.27 285.82 L94.53 285.80 L95.78 285.78 L97.03 285.75 L98.28 285.73 L99.53 285.70 L100.78 285.67 L102.03 285.65 L103.28 285.61 L104.53 285.58 L105.78 285.55 L107.03 285.51 L108.29 285.47 L109.54 285.43 L110.79 285.39 L112.04 285.34 L113.29 285.30 L114.54 285.25 L115.79 285.20 L117.04 285.15 L118.29 285.09 L119.54 285.04 L120.80 284.98 L122.05 284.92 L123.30 284.86 L124.55 284.79 L125.80 284.73 L127.05 284.66 L128.30 284.59 L129.55 284.52 L130.80 284.44 L132.05 284.37 L133.31 284.29 L134.56 284.21 L135.81 284.12 L137.06 284.04 L138.31 283.95 L139.56 283.86 L140.81 283.77 L142.06 283.67 L143.31 283.58 L144.56 283.48 L145.81 283.38 L147.07 283.27 L148.32 283.17 L149.57 283.06 L150.82 282.95 L152.07 282.84 L153.32 282.72 L154.57 282.60 L155.82 282.48 L157.07 282.36 L158.32 282.23 L159.58 282.10 L160.83 281.97 L162.08 281.84 L163.33 281.70 L164.58 281.57 L165.83 281.43 L167.08 281.28 L168.33 281.14 L169.58 280.99 L170.83 280.84 L172.08 280.68 L173.34 280.53 L174.59 280.37 L175.84 280.20 L177.09 280.04 L178.34 279.87 L179.59 279.70 L180.84 279.53 L182.09 279.35 L183.34 279.17 L184.59 278.99 L185.85 278.81 L187.10 278.62 L188.35 278.43 L189.60 278.24 L190.85 278.04 L192.10 277.84 L193.35 277.64 L194.60 277.44 L195.85 277.23 L197.10 277.02 L198.36 276.81 L199.61 276.60 L200.86 276.38 L202.11 276.16 L203.36 275.93 L204.61 275.71 L205.86 275.48 L207.11 275.25 L208.36 275.02 L209.61 274.78 L210.86 274.54 L212.12 274.30 L213.37 274.05 L214.62 273.81 L215.87 273.56 L217.12 273.30 L218.37 273.05 L219.62 272.79 L220.87 272.53 L222.12 272.26 L223.37 272.00 L224.63 271.73 L225.88 271.46 L227.13 271.18 L228.38 270.91 L229.63 270.63 L230.88 270.34 L232.13 270.06 L233.38 269.77 L234.63 269.48 L235.88 269.19 L237.14 268.89 L238.39 268.59 L239.64 268.29 L240.89 267.99 L242.14 267.68 L243.39 267.38 L244.64 267.06 L245.89 266.75 L247.14 266.43 L248.39 266.11 L249.64 265.79 L250.90 265.47 L252.15 265.14 L253.40 264.81 L254.65 264.48 L255.90 264.14 L257.15 263.81 L258.40 263.47 L259.65 263.12 L260.90 262.78 L262.15 262.43 L263.41 262.08 L264.66 261.73 L265.91 261.37 L267.16 261.02 L268.41 260.66 L269.66 260.30 L270.91 259.93 L272.16 259.56 L273.41 259.19 L274.66 258.82 L275.92 258.45 L277.17 258.07 L278.42 257.70 L279.67 257.32 L280.92 256.93 L282.17 256.55 L283.42 256.16 L284.67 255.77 L285.92 255.38 L287.17 254.99 L288.42 254.59 L289.68 254.19 L290.93 253.80 L292.18 253.39 L293.43 252.99 L294.68 252.58 L295.93 252.18 L297.18 251.77 L298.43 251.36 L299.68 250.94 L300.93 250.53 L302.19 250.11 L303.44 249.69 L304.69 249.27 L305.94 248.85 L307.19 248.43 L308.44 248.00 L309.69 247.57 L310.94 247.14 L312.19 246.71 L313.44 246.28 L314.69 245.84 L315.95 245.41 L317.20 244.97 L318.45 244.53 L319.70 244.09 L320.95 243.65 L322.20 243.20 L323.45 242.76 L324.70 242.31 L325.95 241.86 L327.20 241.41 L328.46 240.96 L329.71 240.51 L330.96 240.05 L332.21 239.60 L333.46 239.14 L334.71 238.68 L335.96 238.22 L337.21 237.76 L338.46 237.30 L339.71 236.84 L340.97 236.37 L342.22 235.91 L343.47 235.44 L344.72 234.97 L345.97 234.50 L347.22 234.03 L348.47 233.56 L349.72 233.09 L350.97 232.61 L352.22 232.14 L353.47 231.66 L354.73 231.18 L355.98 230.71 L357.23 230.23 L358.48 229.75 L359.73 229.27 L360.98 228.78 L362.23 228.30 L363.48 227.82 L364.73 227.33 L365.98 226.85 L367.24 226.36 L368.49 225.87 L369.74 225.39 L370.99 224.90 L372.24 224.41 L373.49 223.92 L374.74 223.43 L375.99 222.94 L377.24 222.44 L378.49 221.95 L379.75 221.46 L381.00 220.96 L382.25 220.47 L383.50 219.97 L384.75 219.48 L386.00 218.98" stroke="#ff0000" stroke-width="1.5"/>
<path d="M62.00 288.07 L63.25 288.09 L64.50 288.11 L65.75 288.13 L67.00 288.15 L68.25 288.17 L69.51 288.18 L70.76 288.20 L72.01 288.21 L73.26 288.22 L74.51 288.23 L75.76 288.24 L77.01 288.25 L78.26 288.25 L79.51 288.26 L80.76 288.26 L82.02 288.26 L83.27 288.26 L84.52 288.26 L85.77 288.25 L87.02 288.25 L88.27 288.24 L89.52 288.24 L90.77 288.23 L92.02 288.22 L93.27 288.20 L94.53 288.19 L95.78 288.17 L97.03 288.16 L98.28 288.14 L99.53 288.12 L100.78 288.10 L102.03 288.07 L103.28 288.05 L104.53 288.02 L105.78 288.00 L107.03 287.97 L108.29 287.94 L109.54 287.90 L110.79 287.87 L112.04 287.83 L113.29 287.80 L114.54 287.76 L115.79 287.72 L117.04 287.68 L118.29 287.63 L119.54 287.59 L120.80 287.54 L122.05 287.49 L123.30 287.44 L124.55 287.39 L125.80 287.34 L127.05 287.28 L128.30 287.22 L129.55 287.16 L130.80 287.10 L132.05 287.04 L133.31 286.98 L134.56 286.91 L135.81 286.85 L137.06 286.78 L138.31 286.71 L139.56 286.64 L140.81 286.56 L142.06 286.49 L143.31 286.41 L144.56 286.33 L145.81 286.25 L147.07 286.17 L148.32 286.08 L149.57 286.00 L150.82 285.91 L152.07 285.82 L153.32 285.73 L154.57 285.64 L155.82 285.54 L157.07 285.44 L158.32 285.35 L159.58 285.25 L160.83 285.14 L162.08 285.04 L163.33 284.93 L164.58 284.83 L165.83 284.72 L167.08 284.61 L168.33 284.49 L169.58 284.38 L170.83 284.26 L172.08 284.14 L173.34 284.02 L174.59 283.90 L175.84 283.78 L177.09 283.65 L178.34 283.52 L179.59 283.39 L180.84 283.26 L182.09 283.13 L183.34 282.99 L184.59 282.86 L185.85 282.72 L187.10 282.58 L188.35 282.43 L189.60 282.29 L190.85 282.14 L192.10 282.00 L193.35 281.85 L194.60 281.70 L195.85 281.54 L197.10 281.39 L198.36 281.24 L199.61 281.08 L200.86 280.92 L202.11 280.76 L203.36 280.60 L204.61 280.44 L205.86 280.27 L207.11 280.11 L208.36 279.94 L209.61 279.77 L210.86 279.60 L212.12 279.43 L213.37 279.26 L214.62 279.08 L215.87 278.91 L217.12 278.73 L218.37 278.56 L219.62 278.38 L220.87 278.20 L222.12 278.02 L223.37 277.84 L224.63 277.65 L225.88 277.47 L227.13 277.29 L228.38 277.10 L229.63 276.91 L230.88 276.73 L232.13 276.54 L233.38 276.35 L234.63 276.16 L235.88 275.97 L237.14 275.78 L238.39 275.58 L239.64 275.39 L240.89 275.20 L242.14 275.00 L243.39 274.81 L244.64 274.61 L245.89 274.41 L247.14 274.22 L248.39 274.02 L249.64 273.82 L250.90 273.62 L252.15 273.42 L253.40 273.22 L254.65 273.02 L255.90 272.82 L257.15 272.62 L258.40 272.42 L259.65 272.21 L260.90 272.01 L262.15 271.81 L263.41 271.60 L264.66 271.40 L265.91 271.20 L267.16 270.99 L268.41 270.79 L269.66 270.58 L270.91 270.37 L272.16 270.17 L273.41 269.96 L274.66 269.75 L275.92 269.54 L277.17 269.33 L278.42 269.12 L279.67 268.91 L280.92 268.70 L282.17 268.49 L283.42 268.28 L284.67 268.06 L285.92 267.85 L287.17 267.64 L288.42 267.42 L289.68 267.21 L290.93 266.99 L292.18 266.77 L293.43 266.56 L294.68 266.34 L295.93 266.12 L297.18 265.90 L298.43 265.68 L299.68 265.46 L300.93 265.24 L302.19 265.02 L303.44 264.80 L304.69 264.57 L305.94 264.35 L307.19 264.13 L308.44 263.90 L309.69 263.68 L310.94 263.45 L312.19 263.22 L313.44 262.99 L314.69 262.76 L315.95 262.53 L317.20 262.30 L318.45 262.07 L319.70 261.84 L320.95 261.61 L322.20 261.37 L323.45 261.14 L324.70 260.91 L325.95 260.67 L327.20 260.43 L328.46 260.20 L329.71 259.96 L330.96 259.72 L332.21 259.48 L333.46 259.24 L334.71 259.00 L335.96 258.75 L337.21 258.51 L338.46 258.26 L339.71 258.02 L340.97 257.77 L342.22 257.53 L343.47 257.28 L344.72 257.03 L345.97 256.78 L347.22 256.53 L348.47 256.28 L349.72 256.02 L350.97 255.77 L352.22 255.52 L353.47 255.26 L354.73 255.01 L355.98 254.75 L357.23 254.49 L358.48 254.23 L359.73 253.97 L360.98 253.71 L362.23 253.45 L363.48 253.18 L364.73 252.92 L365.98 252.65 L367.24 252.39 L368.49 252.12 L369.74 251.85 L370.99 251.58 L372.24 251.31 L373.49 251.04 L374.74 250.77 L375.99 250.49 L377.24 250.22 L378.49 249.94 L379.75 249.67 L381.00 249.39 L382.25 249.11 L383.50 248.83 L384.75 248.55 L386.00 248.26" stroke="#ff0000" stroke-width="1.5"/>
</g>
<path d="M100.3 27 H135.2" stroke="#0000ff" stroke-width="1.6" stroke-dasharray="1.6 2.55" fill="none"/>
<path d="M100.7 39.5 H136.7" stroke="#ff0000" stroke-width="1.5" fill="none"/>
<path d="M60.0 287.8 L66.0 287.8 L63.0 282.2 Z" fill="#000" stroke="#000" stroke-width="0.6"/>
<path d="M61.6 287.8 L67.6 287.8 L64.6 282.2 Z" fill="#000" stroke="#000" stroke-width="0.6"/>
<path d="M63.4 287.8 L69.4 287.8 L66.4 282.2 Z" fill="#000" stroke="#000" stroke-width="0.6"/>
<path d="M65.6 287.8 L71.6 287.8 L68.6 282.2 Z" fill="#000" stroke="#000" stroke-width="0.6"/>
<path d="M67.4 287.8 L73.4 287.8 L70.4 282.2 Z" fill="#000" stroke="#000" stroke-width="0.6"/>
<path d="M69.9 287.8 L75.9 287.8 L72.9 282.2 Z" fill="#000" stroke="#000" stroke-width="0.6"/>
<path d="M71.8 287.8 L77.8 287.8 L74.8 282.2 Z" fill="#000" stroke="#000" stroke-width="0.6"/>
<path d="M74.0 287.8 L80.0 287.8 L77.0 282.2 Z" fill="#000" stroke="#000" stroke-width="0.6"/>
<path d="M76.4 287.8 L82.4 287.8 L79.4 282.2 Z" fill="#000" stroke="#000" stroke-width="0.6"/>
<path d="M78.2 287.8 L84.2 287.8 L81.2 282.2 Z" fill="#000" stroke="#000" stroke-width="0.6"/>
<path d="M80.6 287.8 L86.6 287.8 L83.6 282.2 Z" fill="#000" stroke="#000" stroke-width="0.6"/>
<path d="M82.4 287.8 L88.4 287.8 L85.4 282.2 Z" fill="#000" stroke="#000" stroke-width="0.6"/>
<path d="M84.9 287.8 L90.9 287.8 L87.9 282.2 Z" fill="#000" stroke="#000" stroke-width="0.6"/>
<path d="M87.2 287.8 L93.2 287.8 L90.2 282.2 Z" fill="#000" stroke="#000" stroke-width="0.6"/>
<path d="M89.5 287.8 L95.5 287.8 L92.5 282.2 Z" fill="#000" stroke="#000" stroke-width="0.6"/>
<path d="M101.5 286.8 L107.5 286.8 L104.5 281.6 Z" fill="#000" stroke="#000" stroke-width="0.6"/>
<path d="M105.9 286.6 L111.9 286.6 L108.9 281.4 Z" fill="#000" stroke="#000" stroke-width="0.6"/>
<path d="M110.5 286.4 L116.5 286.4 L113.5 281.2 Z" fill="#000" stroke="#000" stroke-width="0.6"/>
<path d="M174.0 275.5 V281.9 M171.2 275.5 H176.8 M171.2 281.9 H176.8" stroke="#000" stroke-width="1.2" fill="none"/>
<circle cx="174.0" cy="278.8" r="2.7" fill="#000"/>
<circle cx="188.1" cy="278.7" r="2.4" fill="#000"/>
<circle cx="207.5" cy="275.5" r="2.9" fill="#000"/>
<path d="M283.7 266.2 L289.1 266.2 L286.4 260.6 Z" fill="none" stroke="#000" stroke-width="0.9"/>
<path d="M286.4 259.2 V267.4 M283.6 259.2 H289.2 M283.6 267.4 H289.2" stroke="#000" stroke-width="1" fill="none"/>
<rect x="62" y="15.5" width="323" height="281.5" fill="none" stroke="#000" stroke-width="2"/>
<path d="M81.45 297.00 v-2.7 M81.45 15.50 v2.7 M92.82 297.00 v-2.7 M92.82 15.50 v2.7 M100.89 297.00 v-2.7 M100.89 15.50 v2.7 M107.15 297.00 v-2.7 M107.15 15.50 v2.7 M112.27 297.00 v-2.7 M112.27 15.50 v2.7 M116.59 297.00 v-2.7 M116.59 15.50 v2.7 M120.34 297.00 v-2.7 M120.34 15.50 v2.7 M123.64 297.00 v-2.7 M123.64 15.50 v2.7 M126.60 297.00 v-5.5 M126.60 15.50 v5.5 M146.05 297.00 v-2.7 M146.05 15.50 v2.7 M157.42 297.00 v-2.7 M157.42 15.50 v2.7 M165.49 297.00 v-2.7 M165.49 15.50 v2.7 M171.75 297.00 v-2.7 M171.75 15.50 v2.7 M176.87 297.00 v-2.7 M176.87 15.50 v2.7 M181.19 297.00 v-2.7 M181.19 15.50 v2.7 M184.94 297.00 v-2.7 M184.94 15.50 v2.7 M188.24 297.00 v-2.7 M188.24 15.50 v2.7 M191.20 297.00 v-5.5 M191.20 15.50 v5.5 M210.65 297.00 v-2.7 M210.65 15.50 v2.7 M222.02 297.00 v-2.7 M222.02 15.50 v2.7 M230.09 297.00 v-2.7 M230.09 15.50 v2.7 M236.35 297.00 v-2.7 M236.35 15.50 v2.7 M241.47 297.00 v-2.7 M241.47 15.50 v2.7 M245.79 297.00 v-2.7 M245.79 15.50 v2.7 M249.54 297.00 v-2.7 M249.54 15.50 v2.7 M252.84 297.00 v-2.7 M252.84 15.50 v2.7 M255.80 297.00 v-5.5 M255.80 15.50 v5.5 M275.25 297.00 v-2.7 M275.25 15.50 v2.7 M286.62 297.00 v-2.7 M286.62 15.50 v2.7 M294.69 297.00 v-2.7 M294.69 15.50 v2.7 M300.95 297.00 v-2.7 M300.95 15.50 v2.7 M306.07 297.00 v-2.7 M306.07 15.50 v2.7 M310.39 297.00 v-2.7 M310.39 15.50 v2.7 M314.14 297.00 v-2.7 M314.14 15.50 v2.7 M317.44 297.00 v-2.7 M317.44 15.50 v2.7 M320.40 297.00 v-5.5 M320.40 15.50 v5.5 M339.85 297.00 v-2.7 M339.85 15.50 v2.7 M351.22 297.00 v-2.7 M351.22 15.50 v2.7 M359.29 297.00 v-2.7 M359.29 15.50 v2.7 M365.55 297.00 v-2.7 M365.55 15.50 v2.7 M370.67 297.00 v-2.7 M370.67 15.50 v2.7 M374.99 297.00 v-2.7 M374.99 15.50 v2.7 M378.74 297.00 v-2.7 M378.74 15.50 v2.7 M382.04 297.00 v-2.7 M382.04 15.50 v2.7 M62.00 285.74 h3.0 M385.00 285.74 h-3.0 M62.00 274.48 h3.0 M385.00 274.48 h-3.0 M62.00 263.22 h3.0 M385.00 263.22 h-3.0 M62.00 251.96 h3.0 M385.00 251.96 h-3.0 M62.00 240.70 h5.5 M385.00 240.70 h-5.5 M62.00 229.44 h3.0 M385.00 229.44 h-3.0 M62.00 218.18 h3.0 M385.00 218.18 h-3.0 M62.00 206.92 h3.0 M385.00 206.92 h-3.0 M62.00 195.66 h3.0 M385.00 195.66 h-3.0 M62.00 184.40 h5.5 M385.00 184.40 h-5.5 M62.00 173.14 h3.0 M385.00 173.14 h-3.0 M62.00 161.88 h3.0 M385.00 161.88 h-3.0 M62.00 150.62 h3.0 M385.00 150.62 h-3.0 M62.00 139.36 h3.0 M385.00 139.36 h-3.0 M62.00 128.10 h5.5 M385.00 128.10 h-5.5 M62.00 116.84 h3.0 M385.00 116.84 h-3.0 M62.00 105.58 h3.0 M385.00 105.58 h-3.0 M62.00 94.32 h3.0 M385.00 94.32 h-3.0 M62.00 83.06 h3.0 M385.00 83.06 h-3.0 M62.00 71.80 h5.5 M385.00 71.80 h-5.5 M62.00 60.54 h3.0 M385.00 60.54 h-3.0 M62.00 49.28 h3.0 M385.00 49.28 h-3.0 M62.00 38.02 h3.0 M385.00 38.02 h-3.0 M62.00 26.76 h3.0 M385.00 26.76 h-3.0" stroke="#000" stroke-width="1.4" fill="none"/>
</svg>
<div class="t yl" style="top:291.2px">0</div>
<div class="t yl" style="top:234.9px">200</div>
<div class="t yl" style="top:178.6px">400</div>
<div class="t yl" style="top:122.3px">600</div>
<div class="t yl" style="top:66.0px">800</div>
<div class="t yl" style="top:9.7px">1000</div>
<div class="t xl" style="left:62.3px;top:305.8px">10<sup>1</sup></div>
<div class="t xl" style="left:126.9px;top:305.8px">10<sup>2</sup></div>
<div class="t xl" style="left:191.5px;top:305.8px">10<sup>3</sup></div>
<div class="t xl" style="left:256.1px;top:305.8px">10<sup>4</sup></div>
<div class="t xl" style="left:320.7px;top:305.8px">10<sup>5</sup></div>
<div class="t xl" style="left:385.3px;top:305.8px">10<sup>6</sup></div>
<div class="t" style="left:75.2px;top:20.6px;font-size:12.5px;letter-spacing:0.3px">1.7</div>
<div class="t" style="left:75.2px;top:33.9px;font-size:12.5px;letter-spacing:0.3px">2.1</div>
<div class="t lab" style="left:73.8px;top:153.4px"><span class="s">&sigma;</span>tot,p-air</div>
<div class="t lab" style="left:73.8px;top:232.3px"><span class="s">&sigma;</span>inel,p-air</div>
<div class="t lab" style="left:332.0px;top:213.3px"><span class="s">&sigma;</span>tot,p-p</div>
<div class="t lab" style="left:332.0px;top:269.4px"><span class="s">&sigma;</span>inel,p-p</div>
<div class="t" style="left:183px;top:319.5px;font-size:16px">E<span style="font-size:12.5px;position:relative;top:5px">CM</span>&nbsp;&nbsp;(GeV)</div>
<div class="t" style="left:0;top:0;font-size:16px;transform-origin:0 0;transform:translate(7.6px,180.5px) rotate(-90deg)"><span style="font-weight:normal">&sigma;</span> (mb)</div>
</body></html>
